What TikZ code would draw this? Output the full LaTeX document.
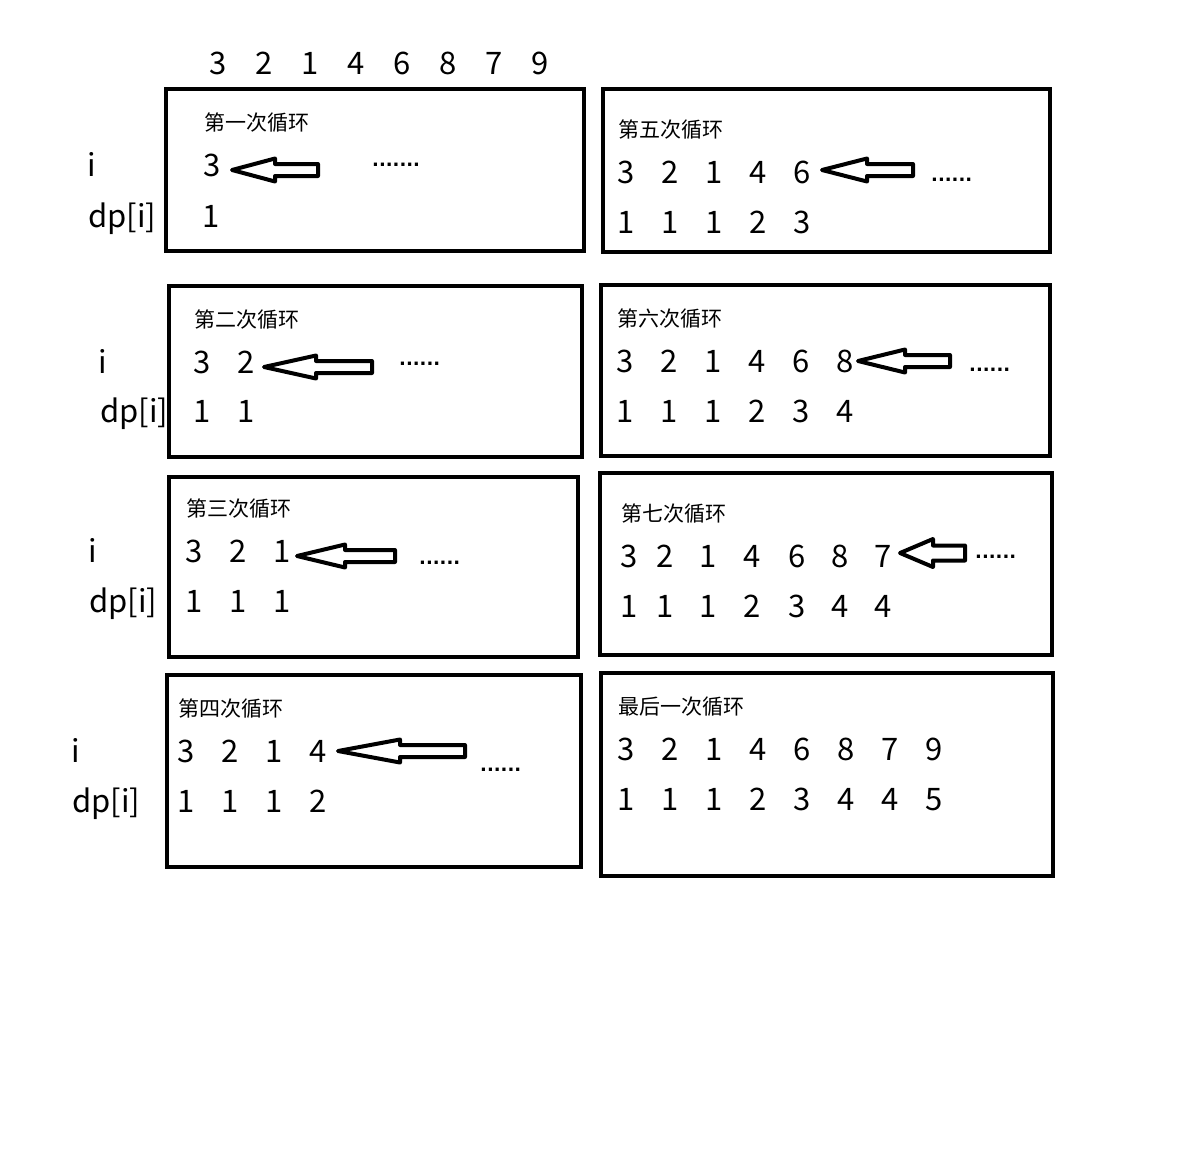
\documentclass[tikz,border=0pt]{standalone}
\usepackage{fontspec}
\setmainfont{Noto Sans CJK SC}
\newfontfamily\dotfont{DejaVu Sans Bold}
\tikzset{
  frame/.style={draw=black, line width=4.5pt},
  num/.style={anchor=base, inner sep=0pt, font=\fontsize{31}{36}\selectfont},
  sidelbl/.style={anchor=base west, inner sep=0pt, font=\fontsize{31}{36}\selectfont},
  lbl/.style={anchor=base west, inner sep=0pt, font=\fontsize{21}{25}\selectfont},
  dotsty/.style={anchor=base west, inner sep=0pt, font=\dotfont\fontsize{18}{22}\selectfont},
  harrow/.style={draw=black, fill=white, line width=4pt, line join=round}
}
% tip x, y, head base x, tail x, head half-height, shaft half-height
\newcommand\hollowarr[6]{%
  \draw[harrow] (#1,#2) -- (#3,{#2-#5}) -- (#3,{#2-#6}) -- (#4,{#2-#6})
    -- (#4,{#2+#6}) -- (#3,{#2+#6}) -- (#3,{#2+#5}) -- cycle;}
\begin{document}
\begin{tikzpicture}[x=1pt,y=-1pt]
\useasboundingbox[fill=white] (0,0) rectangle (1198,1149);

% top sequence
\foreach \x/\t [count=\k] in {218/3,264/2,310/1,356/4,402/6,448/8,494/7,540/9}
  \node[num] (top\k) at (\x,74.5) {\t};

% ---------- boxes ----------
\draw[frame] (166,89) rectangle (584,251);
\draw[frame] (603,89) rectangle (1050,252);
\draw[frame] (169,286) rectangle (582,457);
\draw[frame] (601,285) rectangle (1050,456);
\draw[frame] (169,477) rectangle (578,657);
\draw[frame] (600,473) rectangle (1052,655);
\draw[frame] (167,675) rectangle (581,867);
\draw[frame] (601,673) rectangle (1053,876);

% ---------- side labels ----------
\node[num] (i1) at (92,176.5) {i};
\node[sidelbl] (dp1) at (88,227.5) {dp[i]};
\node[num] (i2) at (103,373) {i};
\node[sidelbl] (dp2) at (100,422) {dp[i]};
\node[num] (i3) at (93,562) {i};
\node[sidelbl] (dp3) at (89,612) {dp[i]};
\node[num] (i4) at (76,762) {i};
\node[sidelbl] (dp4) at (72,812) {dp[i]};

% ---------- box 1 ----------
\node[lbl] (t1) at (204,130) {第一次循环};
\node[num] (a1) at (212,176.5) {3};
\node[num] (b1) at (211,227.5) {1};
\hollowarr{232}{170}{275}{318}{11.5}{6}
\node[dotsty] (d1) at (372,166) {.......};

% ---------- box 5 ----------
\node[lbl] (t5) at (618,137) {第五次循环};
\foreach \x/\t [count=\k] in {626/3,670/2,714/1,758/4,802/6}
  \node[num] (a5\k) at (\x,183) {\t};
\foreach \x/\t [count=\k] in {626/1,670/1,714/1,758/2,802/3}
  \node[num] (b5\k) at (\x,233) {\t};
\hollowarr{822}{170}{867}{913}{11.5}{6}
\node[dotsty] (d5) at (931,181) {......};

% ---------- box 2 ----------
\node[lbl] (t2) at (194,327) {第二次循环};
\foreach \x/\t [count=\k] in {202/3,246/2}
  \node[num] (a2\k) at (\x,373) {\t};
\foreach \x/\t [count=\k] in {202/1,246/1}
  \node[num] (b2\k) at (\x,422) {\t};
\hollowarr{264}{367}{316}{372}{11.5}{6}
\node[dotsty] (d2) at (399,365) {......};

% ---------- box 6 ----------
\node[lbl] (t6) at (617,326) {第六次循环};
\foreach \x/\t [count=\k] in {625/3,669/2,713/1,757/4,801/6,845/8}
  \node[num] (a6\k) at (\x,372) {\t};
\foreach \x/\t [count=\k] in {625/1,669/1,713/1,757/2,801/3,845/4}
  \node[num] (b6\k) at (\x,422) {\t};
\hollowarr{858}{361}{905}{950}{11.5}{6}
\node[dotsty] (d6) at (969,371) {......};

% ---------- box 3 ----------
\node[lbl] (t3) at (186,516) {第三次循环};
\foreach \x/\t [count=\k] in {194/3,238/2,282/1}
  \node[num] (a3\k) at (\x,562) {\t};
\foreach \x/\t [count=\k] in {194/1,238/1,282/1}
  \node[num] (b3\k) at (\x,612) {\t};
\hollowarr{297}{556}{345}{395}{11.5}{6}
\node[dotsty] (d3) at (419,564) {......};

% ---------- box 7 ----------
\node[lbl] (t7) at (621,521) {第七次循环};
\foreach \x/\t [count=\k] in {629/3,665/2,708/1,752/4,797/6,840/8,883/7}
  \node[num] (a7\k) at (\x,567) {\t};
\foreach \x/\t [count=\k] in {629/1,665/1,708/1,752/2,797/3,840/4,883/4}
  \node[num] (b7\k) at (\x,617) {\t};
\hollowarr{900}{553}{933}{965}{14}{7.5}
\node[dotsty] (d7) at (975,558) {......};

% ---------- box 4 ----------
\node[lbl] (t4) at (178,716) {第四次循环};
\foreach \x/\t [count=\k] in {186/3,230/2,274/1,318/4}
  \node[num] (a4\k) at (\x,762) {\t};
\foreach \x/\t [count=\k] in {186/1,230/1,274/1,318/2}
  \node[num] (b4\k) at (\x,812) {\t};
\hollowarr{338}{751}{400}{465}{11.5}{6}
\node[dotsty] (d4) at (480,771) {......};

% ---------- box 8 ----------
\node[lbl] (t8) at (618,714) {最后一次循环};
\foreach \x/\t [count=\k] in {626/3,670/2,714/1,758/4,802/6,846/8,890/7,934/9}
  \node[num] (a8\k) at (\x,760) {\t};
\foreach \x/\t [count=\k] in {626/1,670/1,714/1,758/2,802/3,846/4,890/4,934/5}
  \node[num] (b8\k) at (\x,810) {\t};
\end{tikzpicture}
\end{document}
